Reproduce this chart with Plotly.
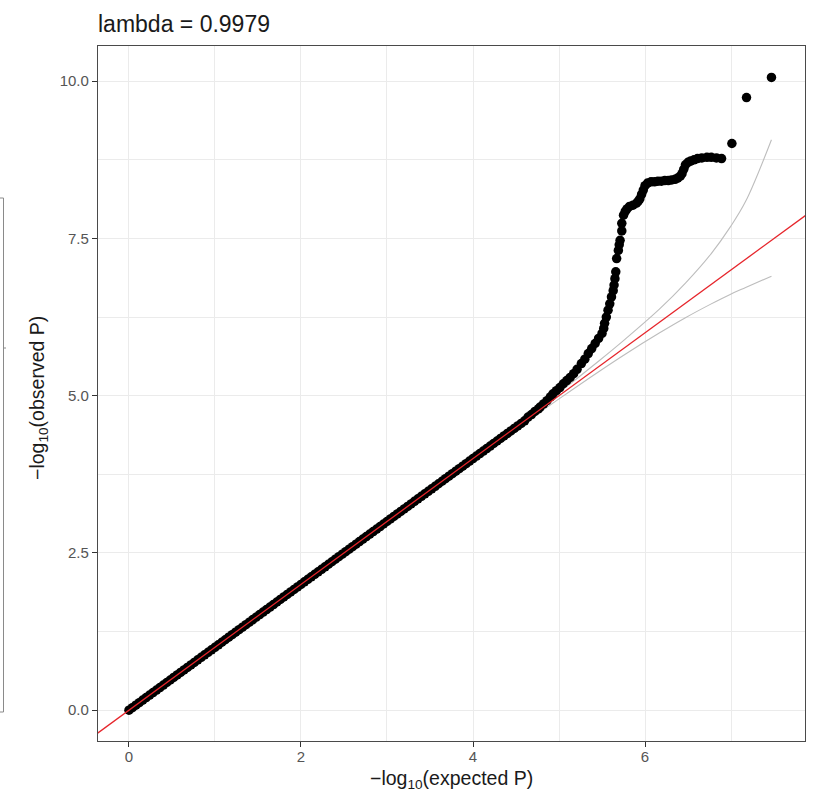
import plotly.graph_objects as go

# Q-Q plot of GWAS p-values: -log10(expected P) vs -log10(observed P)

# Bulk of the SNPs, lying on the identity line
expected_p = [
    0.00, 0.04, 0.08, 0.12, 0.16, 0.20, 0.24, 0.28, 0.32, 0.36,
    0.40, 0.44, 0.48, 0.52, 0.56, 0.60, 0.64, 0.68, 0.72, 0.76,
    0.80, 0.84, 0.88, 0.92, 0.96, 1.00, 1.04, 1.08, 1.12, 1.16,
    1.20, 1.24, 1.28, 1.32, 1.36, 1.40, 1.44, 1.48, 1.52, 1.56,
    1.60, 1.64, 1.68, 1.72, 1.76, 1.80, 1.84, 1.88, 1.92, 1.96,
    2.00, 2.04, 2.08, 2.12, 2.16, 2.20, 2.24, 2.28, 2.32, 2.36,
    2.40, 2.44, 2.48, 2.52, 2.56, 2.60, 2.64, 2.68, 2.72, 2.76,
    2.80, 2.84, 2.88, 2.92, 2.96, 3.00, 3.04, 3.08, 3.12, 3.16,
    3.20, 3.24, 3.28, 3.32, 3.36, 3.40, 3.44, 3.48, 3.52, 3.56,
    3.60, 3.64, 3.68, 3.72, 3.76, 3.80, 3.84, 3.88, 3.92, 3.96,
    4.00, 4.04, 4.08, 4.12, 4.16, 4.20, 4.24, 4.28, 4.32, 4.36,
    4.40, 4.44, 4.48, 4.52, 4.56, 4.60, 4.64, 4.68, 4.72, 4.76,
]
observed_p = [
    0.00, 0.04, 0.08, 0.12, 0.16, 0.20, 0.24, 0.28, 0.32, 0.36,
    0.40, 0.44, 0.48, 0.52, 0.56, 0.60, 0.64, 0.68, 0.72, 0.76,
    0.80, 0.84, 0.88, 0.92, 0.96, 1.00, 1.04, 1.08, 1.12, 1.16,
    1.20, 1.24, 1.28, 1.32, 1.36, 1.40, 1.44, 1.48, 1.52, 1.56,
    1.60, 1.64, 1.68, 1.72, 1.76, 1.80, 1.84, 1.88, 1.92, 1.96,
    2.00, 2.04, 2.08, 2.12, 2.16, 2.20, 2.24, 2.28, 2.32, 2.36,
    2.40, 2.44, 2.48, 2.52, 2.56, 2.60, 2.64, 2.68, 2.72, 2.76,
    2.80, 2.84, 2.88, 2.92, 2.96, 3.00, 3.04, 3.08, 3.12, 3.16,
    3.20, 3.24, 3.28, 3.32, 3.36, 3.40, 3.44, 3.48, 3.52, 3.56,
    3.60, 3.64, 3.68, 3.72, 3.76, 3.80, 3.84, 3.88, 3.92, 3.96,
    4.00, 4.04, 4.08, 4.12, 4.16, 4.20, 4.24, 4.28, 4.32, 4.36,
    4.40, 4.44, 4.48, 4.52, 4.56, 4.60, 4.66, 4.70, 4.75, 4.79,
]

# Upper tail, departing from the null
tail_expected = [
    4.78, 4.82, 4.86, 4.90, 4.93, 4.97, 5.01, 5.05, 5.09, 5.13,
    5.17, 5.21, 5.26, 5.30, 5.34, 5.38, 5.42, 5.46, 5.50, 5.52,
    5.53, 5.55, 5.57, 5.59, 5.61, 5.63, 5.64, 5.65, 5.66, 5.67,
    5.69, 5.70, 5.71, 5.73, 5.73, 5.75, 5.77, 5.79, 5.82, 5.86,
    5.90, 5.92, 5.94, 5.96, 5.98, 6.00, 6.03, 6.07, 6.11, 6.15,
    6.19, 6.23, 6.27, 6.31, 6.35, 6.38, 6.41, 6.43, 6.45, 6.47,
    6.50, 6.53, 6.57, 6.61, 6.66, 6.72, 6.77, 6.83, 6.89, 7.01,
    7.18, 7.47,
]
tail_observed = [
    4.82, 4.87, 4.92, 4.98, 5.03, 5.08, 5.13, 5.19, 5.24, 5.29,
    5.35, 5.42, 5.51, 5.58, 5.67, 5.75, 5.83, 5.91, 5.99, 6.07,
    6.15, 6.25, 6.36, 6.46, 6.57, 6.67, 6.76, 6.86, 6.97, 7.18,
    7.31, 7.40, 7.47, 7.62, 7.74, 7.87, 7.93, 7.97, 8.01, 8.03,
    8.06, 8.09, 8.13, 8.20, 8.27, 8.34, 8.38, 8.40, 8.40, 8.41,
    8.41, 8.42, 8.42, 8.43, 8.44, 8.46, 8.49, 8.53, 8.60, 8.67,
    8.71, 8.73, 8.75, 8.77, 8.78, 8.79, 8.79, 8.78, 8.77, 9.01,
    9.74, 10.06,
]

# 95% confidence band of the expected order statistics
ci_x = [0.0, 1.0, 2.0, 3.0, 4.0, 4.5, 5.0, 5.47, 5.77, 6.17, 6.47, 6.77, 6.99, 7.17, 7.47]
ci_upper = [0.0, 1.0, 2.01, 3.01, 4.02, 4.53, 5.05, 5.56, 5.90, 6.38, 6.79, 7.26, 7.68, 8.09, 9.07]
ci_lower = [0.0, 1.0, 1.99, 2.99, 3.98, 4.47, 4.95, 5.39, 5.66, 6.00, 6.24, 6.46, 6.61, 6.72, 6.90]

# Identity line y = x, spanning past the axis limits
identity = [-1.0, 9.0]

lambda_gc = "0.9979"

x_ticks = [0, 2, 4, 6]
y_ticks = [0.0, 2.5, 5.0, 7.5, 10.0]
y_tick_text = ["0.0", "2.5", "5.0", "7.5", "10.0"]

FONT = "Liberation Sans, Arial, Helvetica, sans-serif"
GRID = "#ebebeb"
BORDER = "#4a4a4a"

fig = go.Figure()

fig.add_trace(go.Scatter(x=ci_x, y=ci_upper, mode="lines", line=dict(color="#bdbdbd", width=1.1, shape="spline"),
                         hoverinfo="skip", showlegend=False))
fig.add_trace(go.Scatter(x=ci_x, y=ci_lower, mode="lines", line=dict(color="#bdbdbd", width=1.1, shape="spline"),
                         hoverinfo="skip", showlegend=False))

fig.add_trace(go.Scatter(x=expected_p + tail_expected, y=observed_p + tail_observed, mode="markers",
                         marker=dict(color="black", size=9.5, line=dict(width=0)), showlegend=False))

fig.add_trace(go.Scatter(x=identity, y=identity, mode="lines", line=dict(color="#e6252b", width=1.3),
                         hoverinfo="skip", showlegend=False))

axis_common = dict(
    showline=True, linecolor=BORDER, linewidth=1.2, mirror=True,
    showgrid=True, gridcolor=GRID, gridwidth=1.3,
    ticks="outside", ticklen=5, tickwidth=1.1, tickcolor="#333333",
    tickfont=dict(family=FONT, size=15, color="#555555"),
    zeroline=False,
)

fig.update_layout(
    width=816, height=792,
    margin=dict(l=98, r=11, t=46, b=51),
    paper_bgcolor="white", plot_bgcolor="white",
    title=dict(text="lambda = " + lambda_gc, x=0, xref="paper", xanchor="left",
               y=1 - 24 / 792, yref="container", yanchor="middle",
               font=dict(family=FONT, size=23, color="#1a1a1a")),
    xaxis=dict(range=[-0.36, 7.86], tickvals=x_ticks, ticktext=[str(t) for t in x_ticks],
               ticklabelstandoff=-3,
               minor=dict(tickvals=[1, 3, 5, 7], showgrid=True, gridcolor=GRID, gridwidth=0.7, ticks=""),
               **axis_common),
    yaxis=dict(range=[-0.49, 10.56], tickvals=y_ticks, ticktext=y_tick_text,
               minor=dict(tickvals=[1.25, 3.75, 6.25, 8.75], showgrid=True, gridcolor=GRID, gridwidth=0.7, ticks=""),
               **axis_common),
    annotations=[
        dict(text="\u2212log<sub>10</sub>(expected P)", x=0.5, y=(741 - 779) / 695, xref="paper", yref="paper",
             xanchor="center", yanchor="middle", showarrow=False,
             font=dict(family=FONT, size=19.5, color="#1a1a1a")),
        dict(text="\u2212log<sub>10</sub>(observed P)", x=(38 - 98) / 707, y=(741 - 398) / 695, xref="paper",
             yref="paper", xanchor="center", yanchor="middle", textangle=-90, showarrow=False,
             font=dict(family=FONT, size=19.5, color="#1a1a1a")),
    ],
    shapes=[
        # edge of a neighbouring panel on the left
        dict(type="rect", xref="paper", yref="paper", x0=(-20 - 98) / 707, x1=(3.5 - 98) / 707,
             y0=(741 - 712) / 695, y1=(741 - 198) / 695, line=dict(color="#8a8a8a", width=1)),
        dict(type="line", xref="paper", yref="paper", x0=(3.5 - 98) / 707, x1=(6 - 98) / 707,
             y0=(741 - 348) / 695, y1=(741 - 348) / 695, line=dict(color="#8a8a8a", width=1)),
    ],
)

fig.write_html("out.html")
